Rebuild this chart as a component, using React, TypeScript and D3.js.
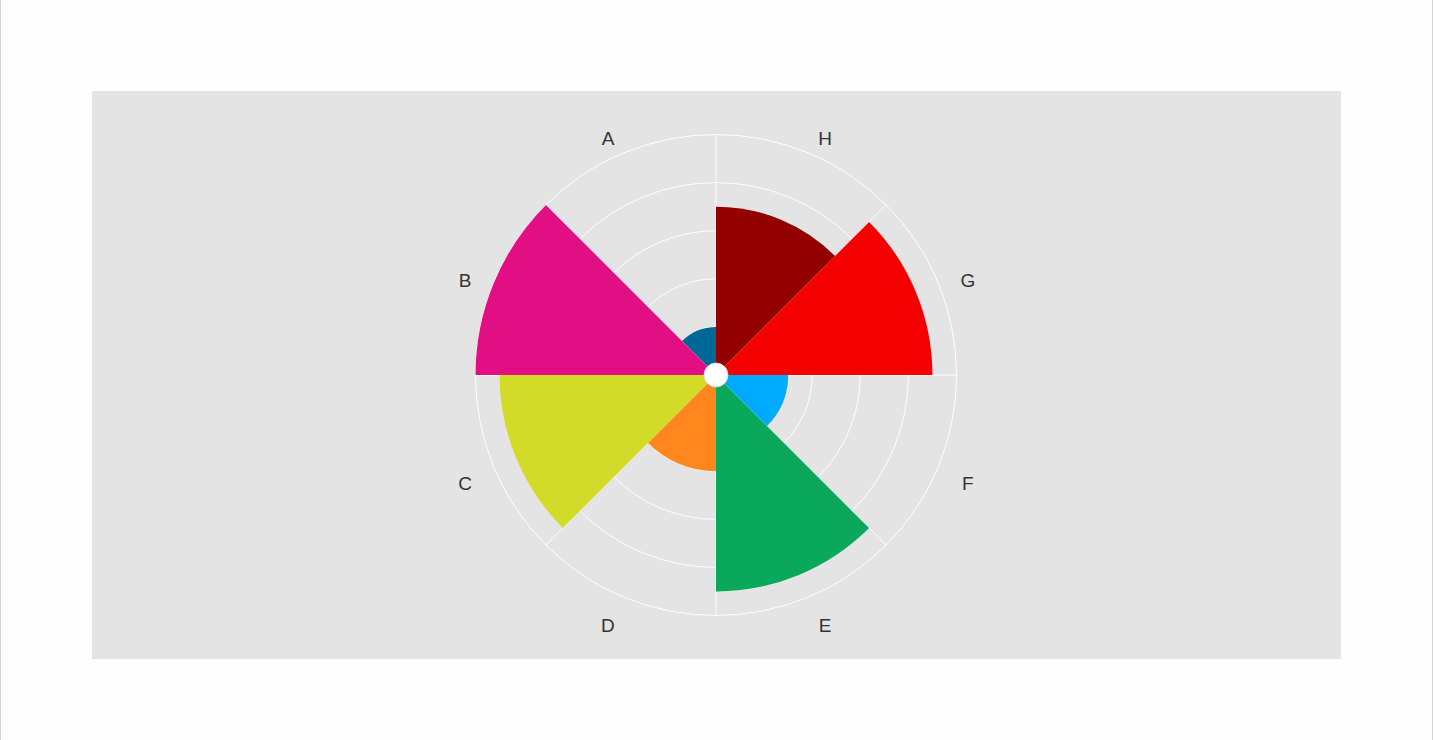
import { useRef, useEffect } from "react";
import * as d3 from "d3";

const categories = ["A", "B", "C", "D", "E", "F", "G", "H"];
const values = [10, 50, 45, 20, 45, 15, 45, 35];
const colors = ["#006896", "#e20e84", "#d2dc28", "#ff871e", "#09a85a", "#00aaff", "#f50000", "#930000"];
const radialTicks = [10, 20, 30, 40, 50];

const width = 1433;
const height = 740;

const App = () => {
  const svgRef = useRef<SVGSVGElement>(null);

  useEffect(() => {
    if (!svgRef.current) return;
    document.body.style.margin = "0";

    const svg = d3.select(svgRef.current);
    svg.selectAll("*").remove();

    // page edges
    svg.append("rect").attr("width", width).attr("height", height).attr("fill", "#fefefe");
    [0.5, width - 0.5].forEach((x) =>
      svg.append("line").attr("x1", x).attr("x2", x).attr("y1", 0).attr("y2", height)
        .attr("stroke", "#d4d4d4").attr("stroke-width", 1)
    );

    // panel
    svg.append("rect").attr("x", 92).attr("y", 91).attr("width", 1249).attr("height", 568).attr("fill", "#e4e4e4");

    const cx = 716;
    const cy = 375;
    const outer = 240.5;
    const g = svg.append("g").attr("transform", `translate(${cx},${cy})`);

    const angle = d3.scaleBand<string>().domain(categories).range([2 * Math.PI, 0]);
    const r = d3.scaleLinear().domain([0, 50]).range([0, outer]);
    const bw = angle.bandwidth();

    g.selectAll("circle.grid")
      .data(radialTicks)
      .enter()
      .append("circle")
      .attr("class", "grid")
      .attr("r", (d) => r(d))
      .attr("fill", "none")
      .attr("stroke", "#fff")
      .attr("stroke-width", 1);

    g.selectAll("line.spoke")
      .data(categories)
      .enter()
      .append("line")
      .attr("class", "spoke")
      .attr("x1", 0)
      .attr("y1", 0)
      .attr("x2", (d) => outer * Math.sin(angle(d)!))
      .attr("y2", (d) => -outer * Math.cos(angle(d)!))
      .attr("stroke", "#fff")
      .attr("stroke-width", 1);

    const arc = d3
      .arc<number>()
      .innerRadius(0)
      .outerRadius((_, i) => r(values[i]))
      .startAngle((_, i) => angle(categories[i])!)
      .endAngle((_, i) => angle(categories[i])! + bw);

    g.selectAll("path.bar")
      .data(values)
      .enter()
      .append("path")
      .attr("class", "bar")
      .attr("d", (d, i) => arc(d, i) as string)
      .attr("fill", (_, i) => colors[i]);

    g.append("circle").attr("r", 12).attr("fill", "#fff").attr("stroke", "#d8d8d8").attr("stroke-width", 0.8);

    const labelR = 264;
    g.selectAll("text.label")
      .data(categories)
      .enter()
      .append("text")
      .attr("class", "label")
      .attr("x", (d) => {
        const a = angle(d)! + bw / 2;
        const s = Math.sin(a);
        return labelR * s + (s > 0 ? 8 : -7);
      })
      .attr("y", (d) => -labelR * Math.cos(angle(d)! + bw / 2) + 7)
      .attr("text-anchor", "middle")
      .attr("dominant-baseline", "central")
      .attr("font-family", "'Liberation Sans', Arial, sans-serif")
      .attr("font-size", 19)
      .attr("fill", "#333")
      .text((d) => d);
  }, []);

  return (
    <svg
      ref={svgRef}
      width={width}
      height={height}
      style={{ position: "absolute", left: 0, top: 0, display: "block" }}
    />
  );
};

export default App;
